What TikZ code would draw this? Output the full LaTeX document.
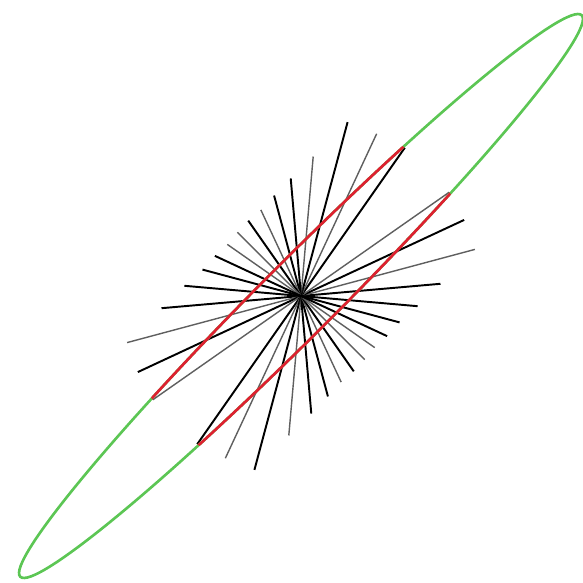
\documentclass[tikz,border=0pt]{standalone}
\usepackage{xcolor}
\usetikzlibrary{calc}
\definecolor{ellgreen}{RGB}{92,198,84}
\definecolor{arcred}{RGB}{222,32,48}
\definecolor{raygray}{RGB}{95,95,95}

\begin{document}
\begin{tikzpicture}[
    x=0.01cm, y=0.01cm,
    darkray/.style={black, line width=0.55pt},
    lightray/.style={raygray, line width=0.4pt},
    conic/.style={line width=0.75pt}
]

% Canvas (image pixels, origin at the centre)
\useasboundingbox (-301,-287) rectangle (282,296);
\coordinate (O) at (0,0);

% SIZES
\def\semimaj{397}
\def\semimin{37}
\def\rmax{181}

% Diameters through the centre
\foreach \ang/\len/\kind in {5/140/darkray, 15/180/lightray, 25/180/darkray,
    35/181/lightray, 55/181/darkray, 65/179/lightray, 75/180/darkray,
    85/140/lightray, 95/118/darkray, 105/104/darkray, 115/95/lightray,
    125/92/darkray, 135/90/lightray, 145/90/lightray, 155/95/darkray,
    165/102/darkray, 175/117/darkray}{
  \draw[\kind] ($(O)+(\ang:\len)$) -- ($(O)+(\ang+180:\len)$);
}

% Ellipse
\draw[conic, ellgreen, rotate=45] (O) ellipse [x radius=\semimaj, y radius=\semimin];

% Part of the ellipse inside the disc of the longest rays
\begin{scope}
  \clip (O) circle [radius=\rmax];
  \draw[conic, arcred, rotate=45] (O) ellipse [x radius=\semimaj, y radius=\semimin];
\end{scope}

\end{tikzpicture}
\end{document}
